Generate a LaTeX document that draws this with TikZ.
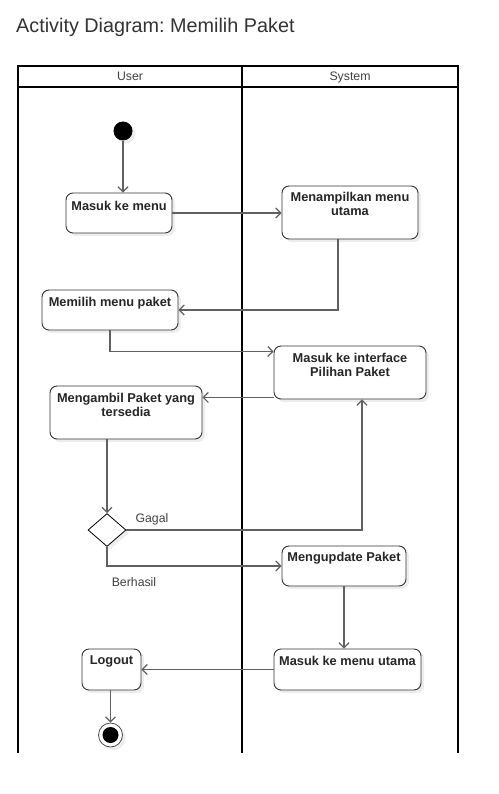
\documentclass[tikz,border=0pt]{standalone}
\usepackage{fontspec}
\setmainfont{Liberation Sans}
\usetikzlibrary{arrows.meta,shapes.geometric,shadows,calc}
\begin{document}
\frenchspacing
\begin{tikzpicture}[x=1pt,y=-1pt,
  act/.style={draw=black!80, line width=0.9pt, rounded corners=7pt, fill=white,
    drop shadow={shadow xshift=3pt, shadow yshift=-3pt, fill=black!7, opacity=1},
    inner sep=0pt},
  lbl/.style={font=\bfseries\fontsize{12.8}{14}\selectfont, text=black!85, align=center, inner sep=1pt, anchor=north},
  flow/.style={draw=black!62, line width=1.2pt, -{Straight Barb[length=5pt,width=10pt]}},
  lane/.style={draw=black, line width=1.5pt},
  plain/.style={font=\fontsize{12.3}{14}\selectfont, text=black!75, anchor=base}]
\useasboundingbox (0,0) rectangle (498,794);
\node[font=\fontsize{19.8}{22}\selectfont, text=black!80, anchor=base west, inner sep=0pt] (title) at (16,33) {Activity Diagram: Memilih Paket};
% swimlanes
\draw[lane] (18,753) -- (18,66) -- (458,66) -- (458,753);
\draw[lane] (18,87) -- (458,87);
\draw[lane] (242,66) -- (242,753);
\node[plain] (huser) at (130,81) {User};
\node[plain] (hsys) at (350,81) {System};
% start
\node[circle, fill=black, minimum size=19pt, inner sep=0pt, drop shadow={shadow xshift=3pt, shadow yshift=-3pt, fill=black!7, opacity=1}] (start) at (123,131) {};
% activities
\node[act, minimum width=106pt, minimum height=40pt] (a1) at (119,213) {};
\node[lbl] (t1) at ($(a1.north)+(0,7)$) {Masuk ke menu};
\node[act, minimum width=136pt, minimum height=53pt] (a2) at (350,212.5) {};
\node[lbl] (t2) at ($(a2.north)+(0,5)$) {Menampilkan menu\\utama};
\node[act, minimum width=136pt, minimum height=40pt] (a3) at (110,310) {};
\node[lbl] (t3) at ($(a3.north)+(0,6)$) {Memilih menu paket};
\node[act, minimum width=152pt, minimum height=53pt] (a4) at (350,372.5) {};
\node[lbl] (t4) at ($(a4.north)+(0,6)$) {Masuk ke interface\\Pilihan Paket};
\node[act, minimum width=152pt, minimum height=53pt] (a5) at (126,412.5) {};
\node[lbl] (t5) at ($(a5.north)+(0,6)$) {Mengambil Paket yang\\tersedia};
\node[diamond, draw=black, line width=0.8pt, fill=white, minimum width=38pt, minimum height=33pt, inner sep=0pt,
  drop shadow={shadow xshift=3pt, shadow yshift=-3pt, fill=black!7, opacity=1}] (d) at (107,530) {};
\node[act, minimum width=124pt, minimum height=40pt] (a6) at (344,566) {};
\node[lbl] (t6) at ($(a6.north)+(0,5)$) {Mengupdate Paket};
\node[act, minimum width=147pt, minimum height=41pt] (a7) at (347.5,669.5) {};
\node[lbl] (t7) at ($(a7.north)+(0,6)$) {Masuk ke menu utama};
\node[act, minimum width=59pt, minimum height=41pt] (a8) at (111.5,669.5) {};
\node[lbl] (t8) at ($(a8.north)+(0,6)$) {Logout};
% end
\node[circle, draw=black!70, line width=0.8pt, fill=white, minimum size=24pt, inner sep=0pt,
  drop shadow={shadow xshift=3pt, shadow yshift=-3pt, fill=black!7, opacity=1}] (end) at (110.5,735) {};
\node[circle, fill=black, minimum size=16pt, inner sep=0pt] (endin) at (end) {};
% helper points
\coordinate (p23) at ($(a2.south)+(-12,0)$);
\coordinate (p34) at ($(a4.north west)+(0,6)$);
\coordinate (p45) at ($(a4.south west)+(0,-2)$);
\coordinate (pg) at ($(a4.south)+(12,0)$);
% flows
\draw[flow] (start.south) -- (start.south |- a1.north);
\draw[flow] (a1.east) -- (a1.east -| a2.west);
\draw[flow] (p23) |- (a3.east);
\draw[flow] (a3.south) |- (p34);
\draw[flow] (p45) -- (p45 -| a5.east);
\draw[flow] (a5.south -| d.north) -- (d.north);
\draw[flow] (d.east) -| (pg);
\draw[flow] (d.south) |- (a6.west);
\draw[flow] (a6.south) -- (a6.south |- a7.north);
\draw[flow] (a7.west) -- (a8.east);
\draw[flow] (a8.south -| end.north) -- (end.north);
\node[plain] (gagal) at (152,522) {Gagal};
\node[plain] (berhasil) at (134,586) {Berhasil};
\end{tikzpicture}
\end{document}
